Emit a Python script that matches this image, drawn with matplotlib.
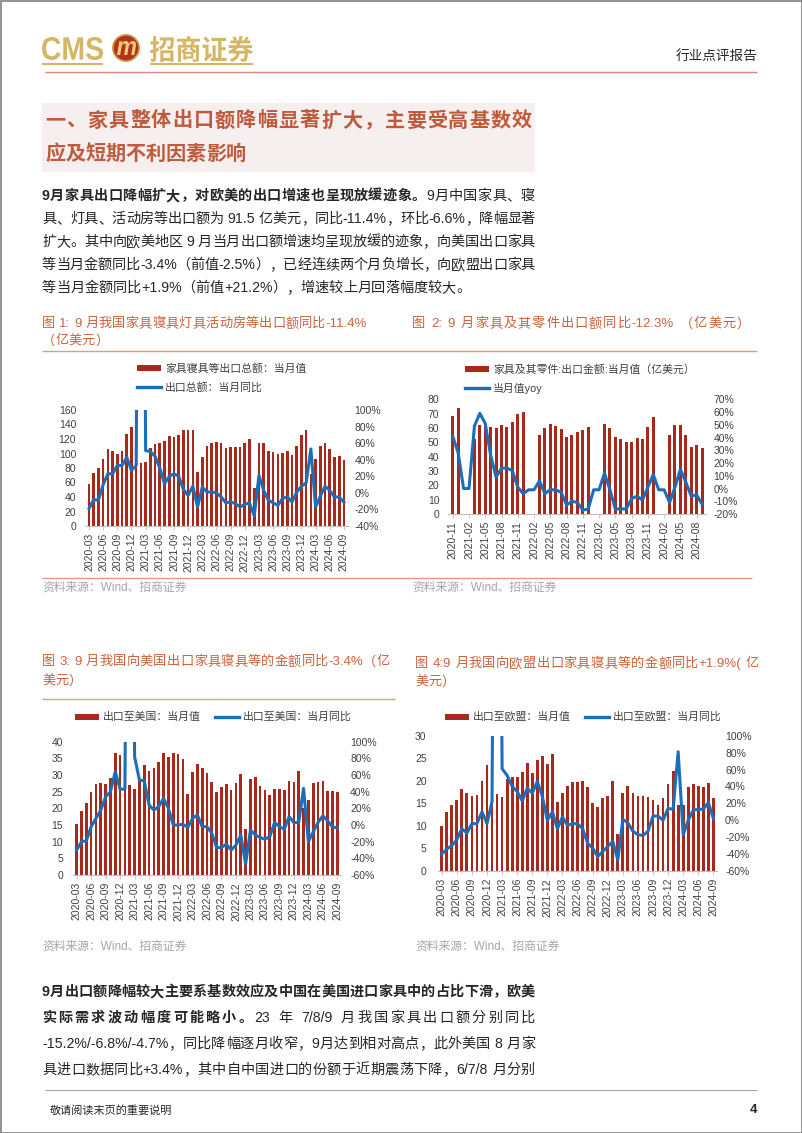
import numpy as np
import pandas as pd
import matplotlib
matplotlib.use('Agg')
import matplotlib.pyplot as plt
from matplotlib.patches import Rectangle, Circle, PathPatch
from matplotlib.textpath import TextPath
from matplotlib.font_manager import FontProperties
from matplotlib.transforms import Affine2D

# ---------------- data ----------------
months_a = [str(p) for p in pd.period_range('2020-03', '2024-09', freq='M')]
months_b = [str(p) for p in pd.period_range('2020-11', '2024-09', freq='M')]

c1_value = [58, 73, 80, 92, 106, 103, 100, 104, 127, 136,
            95, 87, 88, 108, 113, 115, 117, 124, 123, 125, 132, 132, 133,
            74, 95, 110, 115, 116, 114, 108, 109, 109, 109, 115, 120,
            53, 115, 114, 103, 102, 100, 101, 103, 98, 111, 125, 133,
            72, 93, 111, 114, 106, 95, 97, 91.5]
c1_yoy = [-0.19, -0.08, -0.09, 0.10, 0.23, 0.23, 0.33, 0.33, 0.43, 0.27,
          0.33, 10.0, 0.51, 0.50, 0.44, 0.30, 0.11, 0.20, 0.23, 0.20, 0.04, -0.03, 0.08,
          -0.17, 0.07, 0.01, 0.01, 0.00, -0.05, -0.12, -0.11, -0.13, -0.17, -0.14, -0.12,
          -0.28, 0.21, 0.03, -0.09, -0.12, -0.152, -0.068, -0.047, -0.11, 0.01, 0.08, 0.12,
          0.53, -0.17, -0.04, 0.08, 0.03, -0.05, -0.05, -0.114]

nan = np.nan
c2_value = [68.4, 74, nan, nan, 52, 62, 61.5, 61, 60, 62, 61, 64.4, 69.8, 71.4,
            nan, nan, 55, 60, 63, 61.5, 59, 54, 55, 57, 58.6, 60.5,
            nan, nan, 63, 60, 53.5, 52, 50, 50.5, 53, 52, 60.5, 68,
            nan, nan, 55, 62, 62, 55, 47, 48, 46]
c2_yoy = [0.41, 0.28, 0.0, 0.0, 0.49, 0.59, 0.51, 0.26, 0.09, 0.16, 0.16, 0.14, 0.01, -0.04,
          -0.01, -0.01, 0.06, -0.04, -0.01, -0.01, -0.03, -0.13, -0.10, -0.11, -0.17, -0.16,
          -0.01, -0.01, 0.12, -0.01, -0.16, -0.16, -0.16, -0.08, -0.06, -0.09, 0.01, 0.11,
          -0.01, -0.01, -0.11, 0.01, 0.15, 0.05, -0.06, -0.05, -0.123]

c3_value = [15.3, 19.3, 21.5, 25, 27.2, 27.6, 27.4, 29, 36.5, 36,
            30, 27, 25.7, 28.5, 33, 31.2, 32, 33.8, 36.7, 35.3, 36.7, 36.3, 34.7,
            24.3, 30.8, 33.3, 32, 30.5, 28, 24.8, 26.3, 27.2, 25.6, 27.5, 30.3,
            13.7, 28.8, 29.5, 26.7, 25.4, 24, 25.9, 25.9, 25.6, 28.3, 28, 31.2,
            20, 22.6, 27.7, 27.9, 28.3, 25.1, 25.1, 25.0]
c3_yoy = [-0.30, -0.20, -0.19, -0.02, 0.08, 0.18, 0.34, 0.40, 0.64, 0.43,
          0.43, 10.0, 0.82, 0.54, 0.53, 0.24, 0.18, 0.22, 0.32, 0.20, 0.00, 0.00, 0.01,
          -0.03, 0.08, 0.12, -0.02, -0.02, -0.10, -0.27, -0.27, -0.23, -0.30, -0.24, -0.12,
          -0.47, -0.06, -0.12, -0.15, -0.17, -0.14, 0.03, -0.02, -0.05, 0.10, 0.03, 0.03,
          0.44, -0.20, -0.08, 0.03, 0.11, 0.05, -0.025, -0.034]

c4_value = [10, 13, 14.6, 15.7, 18.2, 17.4, 16.6, 16.9, 20, 23.6,
            20, 17.1, 16.3, 20.4, 20.8, 20.8, 22, 24, 21.7, 24.6, 25.5, 23.7, 26,
            15.4, 17.2, 18.9, 19.8, 19.7, 19.9, 18.7, 15, 14.1, 16.1, 16.7, 20,
            8.1, 17.4, 18.8, 17.4, 16.6, 16.6, 16.3, 15.7, 14.6, 16.1, 19.2, 22.1,
            14.7, 14.6, 18.7, 19.4, 18.8, 18.7, 19.6, 16.1]
c4_yoy = [-0.40, -0.34, -0.30, -0.23, -0.10, -0.15, -0.04, -0.04, 0.10, -0.04,
          0.22, 10.0, 0.61, 0.53, 0.40, 0.34, 0.23, 0.38, 0.32, 0.46, 0.28, 0.00, 0.10,
          -0.10, 0.04, -0.06, -0.04, -0.04, -0.10, -0.27, -0.33, -0.43, -0.37, -0.31, -0.25,
          -0.47, 0.01, -0.03, -0.13, -0.17, -0.18, -0.13, 0.05, 0.05, 0.00, 0.14, 0.13,
          0.81, -0.17, 0.00, 0.12, 0.13, 0.13, 0.21, 0.019]

# ---------------- style ----------------
FAM = ['Liberation Sans', 'Noto Sans CJK SC']
plt.rcParams['font.family'] = FAM
BAR = '#A8291B'
BLUE = '#1B6FBA'
TITLE_C = '#C8643E'
HEAD_C = '#C05A3C'
GOLD = '#D5B566'
TXT = '#262626'
TICK_C = '#404040'
RULE = '#DE9C86'

W, H = 802, 1133
fig = plt.figure(figsize=(W / 100, H / 100), dpi=100)
page = fig.add_axes([0, 0, 1, 1])
page.set_xlim(0, W)
page.set_ylim(H, 0)
page.axis('off')
renderer = fig.canvas.get_renderer()


def tokens(s):
    out, buf = [], ''
    for ch in s:
        if ch.isascii() and ch != ' ':
            buf += ch
        else:
            if buf:
                out.append(buf)
                buf = ''
            out.append(ch)
    if buf:
        out.append(buf)
    return out


def draw_line(y, x0, segs, size, color, x1=None):
    items = []
    for s, w in segs:
        for t in tokens(s):
            items.append((t, w))
    texts, widths = [], []
    for t, w in items:
        if t == ' ':
            texts.append(None)
            widths.append(size * 100 / 72 * 0.28)
        else:
            tx = page.text(0, y, t, fontsize=size, fontweight=w, color=color,
                           va='center', ha='left', family=FAM)
            bb = tx.get_window_extent(renderer)
            texts.append(tx)
            widths.append(bb.width)
    total = sum(widths)
    gap = (x1 - x0 - total) / (len(items) - 1) if (x1 is not None and len(items) > 1) else 0
    x = x0
    for tx, wd in zip(texts, widths):
        if tx is not None:
            tx.set_x(x)
        x += wd + gap


def hline(y, x0, x1, color, lw=1.0):
    page.plot([x0, x1], [y, y], color=color, lw=lw, solid_capstyle='butt')


# page border
page.add_patch(Rectangle((0.5, 0.5), W - 1, H - 1, fill=False, ec='#808080', lw=1.2))

# ---- logo ----
def path_text(s, x0, x1, ytop, ybot, color, weight='bold', family='Liberation Sans', style='normal'):
    fp = FontProperties(family=family, weight=weight, style=style)
    p = TextPath((0, 0), s, size=10, prop=fp)
    bb = p.get_extents()
    tr = (Affine2D().translate(-bb.x0, -bb.y0)
          .scale((x1 - x0) / bb.width, -(ybot - ytop) / bb.height)
          .translate(x0, ybot))
    page.add_patch(PathPatch(tr.transform_path(p), fc=color, ec='none'))

path_text('CMS', 42, 103, 37, 60, GOLD)
page.add_patch(Circle((126, 48), 14, fc='#C9A24C', ec='none'))
page.add_patch(Circle((126, 48), 12.3, fc='#B3331F', ec='none'))
path_text('m', 117, 136, 41, 55, '#F0CC72', style='italic')
path_text('招商证券', 150, 253, 36, 62, GOLD, family='Noto Sans CJK SC')
hline(64, 42, 103, GOLD, 1.5)
hline(64, 150, 253, GOLD, 1.5)
page.text(757, 56, '行业点评报告', fontsize=9.8, color=TXT, ha='right', va='center', family=FAM)
hline(72, 45, 757, '#D7877A', 1.0)

# ---- heading ----
page.add_patch(Rectangle((42, 103), 493, 69, fc='#F5F0EF', ec='none'))
draw_line(121, 45, [('一、家具整体出口额降幅显著扩大，主要受高基数效', 'bold')], 14.5, HEAD_C, 532)
draw_line(154, 45, [('应及短期不利因素影响', 'bold')], 14.5, HEAD_C)

# ---- paragraph 1 ----
PS = 10.2
draw_line(196, 42, [('9月家具出口降幅扩大，对欧美的出口增速也呈现放缓迹象。', 'bold'),
                    ('9月中国家具、寝', 'normal')], PS, TXT, 535)
draw_line(219, 42, [('具、灯具、活动房等出口额为 91.5 亿美元，同比-11.4%，环比-6.6%，降幅显著', 'normal')], PS, TXT, 535)
draw_line(242, 42, [('扩大。其中向欧美地区 9 月当月出口额增速均呈现放缓的迹象，向美国出口家具', 'normal')], PS, TXT, 535)
draw_line(265, 42, [('等当月金额同比-3.4%（前值-2.5%），已经连续两个月负增长，向欧盟出口家具', 'normal')], PS, TXT, 535)
draw_line(288, 42, [('等当月金额同比+1.9%（前值+21.2%），增速较上月回落幅度较大。', 'normal')], PS, TXT)

# ---- figure titles ----
TS = 9.5
TW = 'medium'
draw_line(324, 42, [('图 1: 9 月我国家具寝具灯具活动房等出口额同比-11.4%', TW)], TS, TITLE_C, 367)
draw_line(341, 42, [('（亿美元）', TW)], TS, TITLE_C)
draw_line(324, 412, [('图 2: 9 月家具及其零件出口额同比-12.3% （亿美元）', TW)], TS, TITLE_C, 750)
hline(351, 42, 757, RULE, 1.0)
hline(578, 42, 752, RULE, 1.0)

draw_line(662, 42, [('图 3: 9 月我国向美国出口家具寝具等的金额同比-3.4%（亿', TW)], TS, TITLE_C, 390)
draw_line(681, 42, [('美元）', TW)], TS, TITLE_C)
draw_line(664, 415, [('图 4:9 月我国向欧盟出口家具寝具等的金额同比+1.9%( 亿', TW)], TS, TITLE_C, 759)
draw_line(682, 415, [('美元）', TW)], TS, TITLE_C)
hline(699, 42, 395, RULE, 1.0)

SRC = '资料来源：Wind、招商证券'
for (sx, sy) in [(42, 588), (412, 588), (42, 947), (415, 947)]:
    page.text(sx, sy, SRC, fontsize=8.5, color='#A6A6A6', ha='left', va='center', family=FAM)

# ---- legends ----
LS = 7.8
def leg_bar(x, y, label):
    page.add_patch(Rectangle((x, y - 3), 24, 6, fc=BAR, ec='none'))
    page.text(x + 28, y, label, fontsize=LS, color=TICK_C, va='center', ha='left', family=FAM)

def leg_line(x, y, label):
    page.plot([x, x + 24], [y, y], color=BLUE, lw=2.4)
    page.text(x + 28, y, label, fontsize=LS, color=TICK_C, va='center', ha='left', family=FAM)

leg_bar(137, 368, '家具寝具等出口总额：当月值')
leg_line(137, 387, '出口总额：当月同比')
leg_bar(465, 369, '家具及其零件:出口金额:当月值（亿美元）')
leg_line(465, 388, '当月值yoy')
leg_bar(75, 717, '出口至美国：当月值')
leg_line(215, 717, '出口至美国：当月同比')
leg_bar(445, 717, '出口至欧盟：当月值')
leg_line(585, 717, '出口至欧盟：当月同比')

# ---- charts ----
def chart(x0, x1, ytop, ybot, values, yoy, labels, lmax, lstep, rmin, rmax, rstep, lpad, rpad):
    ax = fig.add_axes([x0 / W, 1 - ybot / H, (x1 - x0) / W, (ybot - ytop) / H])
    ax.patch.set_visible(False)
    n = len(values)
    idx = np.arange(n)
    v = np.array(values, float)
    m = ~np.isnan(v)
    ax.bar(idx[m], v[m], width=0.55, color=BAR, zorder=2)
    ax.set_xlim(-0.8, n - 0.2)
    ax.set_ylim(0, lmax)
    ax.set_yticks(np.arange(0, lmax + 0.01, lstep))
    ax.set_yticklabels([f'{int(t)}' for t in np.arange(0, lmax + 0.01, lstep)])
    ax.set_xticks(idx[::3])
    ax.set_xticklabels(labels[::3], rotation=90)
    for s in ['top', 'left', 'right']:
        ax.spines[s].set_visible(False)
    ax.spines['bottom'].set_color('#BFBFBF')
    ax.spines['bottom'].set_linewidth(0.8)
    ax.tick_params(axis='y', length=0, pad=lpad, labelsize=7.5, labelcolor=TICK_C)
    ax.tick_params(axis='x', length=3, width=0.6, color='#BFBFBF', pad=2, labelsize=7.5, labelcolor=TICK_C)
    ax2 = ax.twinx()
    ax2.patch.set_visible(False)
    ax2.plot(idx, yoy, color=BLUE, lw=2.2, solid_joinstyle='round', zorder=3)
    ax2.set_ylim(rmin / 100, rmax / 100)
    rt = list(range(rmin, rmax + 1, rstep))
    ax2.set_yticks([t / 100 for t in rt])
    ax2.set_yticklabels([f'{t}%' for t in rt])
    for s in ax2.spines.values():
        s.set_visible(False)
    ax2.tick_params(axis='y', length=0, pad=rpad, labelsize=7.5, labelcolor=TICK_C)
    return ax, ax2

chart(85.2, 347.7, 410, 526, c1_value, c1_yoy, months_a, 160, 20, -40, 100, 20, 6.5, 5)
chart(448.4, 706.4, 399.3, 514, c2_value, c2_yoy, months_b, 80, 10, -20, 70, 10, 6.5, 5)
chart(72.8, 341.2, 741.7, 875, c3_value, c3_yoy, months_a, 40, 5, -60, 100, 20, 7, 6.5)
chart(437.7, 717.4, 735.7, 871, c4_value, c4_yoy, months_a, 30, 5, -60, 100, 20, 8, 5.5)

# ---- paragraph 2 ----
draw_line(992, 42, [('9月出口额降幅较大主要系基数效应及中国在美国进口家具中的占比下滑，欧美', 'bold')], PS, TXT, 535)
draw_line(1018, 42, [('实际需求波动幅度可能略小。', 'bold'), ('23 年 7/8/9 月我国家具出口额分别同比', 'normal')], PS, TXT, 535)
draw_line(1044, 42, [('-15.2%/-6.8%/-4.7%，同比降幅逐月收窄，9月达到相对高点，此外美国 8 月家', 'normal')], PS, TXT, 535)
draw_line(1070, 42, [('具进口数据同比+3.4%，其中自中国进口的份额于近期震荡下降，6/7/8 月分别', 'normal')], PS, TXT, 535)

# ---- footer ----
hline(1090, 45, 757, '#A6A6A6', 0.8)
page.text(50, 1110, '敬请阅读末页的重要说明', fontsize=8, color=TXT, ha='left', va='center', family=FAM)
page.text(757, 1110, '4', fontsize=9.5, fontweight='bold', color=TXT, ha='right', va='center', family=FAM)

fig.savefig('out.png', dpi=100)
